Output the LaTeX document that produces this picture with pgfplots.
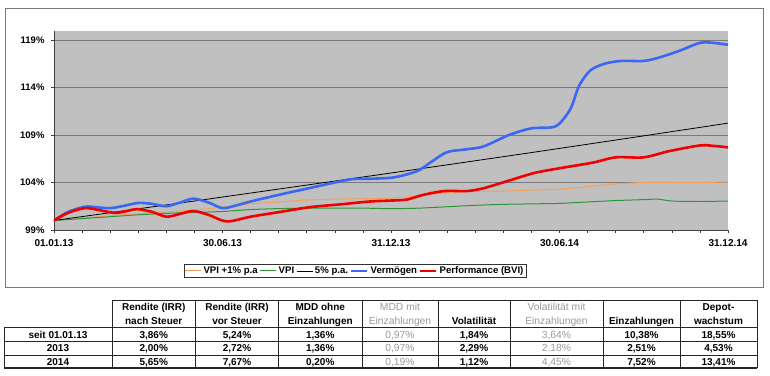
\documentclass[border=0pt]{standalone}
\usepackage{pgfplots}
\pgfplotsset{compat=1.18}
\usepackage{fontspec}
\setmainfont{Liberation Sans}
\definecolor{plotbg}{HTML}{C0C0C0}
\definecolor{vpione}{HTML}{F0A060}
\definecolor{vpi}{HTML}{2E9438}
\definecolor{verm}{HTML}{3B68F2}
\definecolor{perf}{HTML}{F00000}
\definecolor{gridc}{HTML}{7A7A7A}
\definecolor{txtgray}{HTML}{9A9A9A}
\newcommand\tf{\fontsize{10bp}{12bp}\selectfont}
\newcommand\cell[3]{\node[anchor=base,inner sep=0pt,font=\tf\bfseries] at (#1bp,#2bp-3.6bp) {#3};}
\newcommand\gcell[3]{\node[anchor=base,inner sep=0pt,font=\fontsize{10.3bp}{12bp}\selectfont,text=txtgray] at (#1bp,#2bp-3.6bp) {#3};}
\begin{document}
\begin{tikzpicture}
\useasboundingbox[fill=white] (0,0) rectangle (770bp,376bp);
\draw[gridc, line width=0.8bp] (5bp,368bp) rectangle (763bp,89bp);
\begin{axis}[
  at={(54bp,146bp)}, anchor=south west, scale only axis,
  width=674bp, height=199bp,
  xmin=0, xmax=24, ymin=99, ymax=119.95,
  axis background/.style={fill=plotbg},
  axis x line*=bottom, axis y line*=left,
  axis line style={-, line width=0.8bp, black!75},
  xtick={0,6,12,18,24},
  xticklabels={01.01.13,30.06.13,31.12.13,30.06.14,31.12.14},
  minor xtick={1,2,3,4,5,7,8,9,10,11,13,14,15,16,17,19,20,21,22,23},
  ytick={99,104,109,114,119},
  yticklabels={99\%,104\%,109\%,114\%,119\%},
  tick align=outside, major tick length=3bp, minor tick length=3bp,
  tick style={black!75, line width=0.6bp},
  ymajorgrids, grid style={gridc, line width=0.6bp},
  ticklabel style={font=\bfseries\fontsize{9.5bp}{11bp}\selectfont},
  xticklabel style={font=\bfseries\fontsize{10bp}{11bp}\selectfont, yshift=-3bp},
  yticklabel style={xshift=-3bp},
  legend columns=5,
  legend style={at={(axis description cs:0.4466,-0.171)}, anchor=north,
    draw=black!80, fill=white, font=\bfseries\fontsize{9.6bp}{11bp}\selectfont, inner sep=0.5bp,
    /tikz/every even column/.append style={column sep=0bp}},
  legend image code/.code={\draw[#1,sharp plot] (0bp,0bp) -- (16bp,0bp);},
]
\addplot[vpione, line width=1bp, smooth] coordinates {
(0,100) (1,100.25) (2,100.5) (3,100.7) (4,100.9) (5,101.1) (6,101.4) (7,101.75)
(8,101.95) (9,102.15) (10,102.25) (11,102.3) (12,102.35) (13,102.6) (14,102.95)
(15,103.05) (16,103.1) (17,103.2) (18,103.3) (19,103.55) (20,103.85) (21,104.0)
(22,104.0) (23,104.0) (24,104.05)};
\addlegendentry{VPI +1\% p.a}
\addplot[vpi, line width=1bp, smooth] coordinates {
(0,100) (1,100.2) (2,100.4) (3,100.6) (4,100.75) (5,100.85) (6,100.95) (7,101.15)
(8,101.25) (9,101.3) (10,101.3) (11,101.3) (12,101.25) (13,101.3) (14,101.45)
(15,101.6) (16,101.7) (17,101.75) (18,101.8) (19,101.95) (20,102.1) (21,102.2)
(21.5,102.25) (22,102.05) (23,102.0) (24,102.05)};
\addlegendentry{VPI}
\addplot[black, line width=0.8bp] coordinates {
(0,100) (1,100.41) (2,100.82) (3,101.23) (4,101.64) (5,102.05) (6,102.47) (7,102.89)
(8,103.31) (9,103.73) (10,104.15) (11,104.58) (12,105.00) (13,105.43) (14,105.86)
(15,106.29) (16,106.72) (17,107.15) (18,107.59) (19,108.03) (20,108.47) (21,108.91)
(22,109.36) (23,109.80) (24,110.25)};
\addlegendentry{5\% p.a.}
\addplot[verm, line width=2.6bp, smooth] coordinates {
(0,100) (0.5,100.9) (1.1,101.45) (1.5,101.4) (2.0,101.3) (2.5,101.55) (3.0,101.85)
(3.5,101.75) (4.0,101.5) (4.5,101.9) (4.96,102.3) (5.5,101.9) (6.0,101.3) (6.5,101.6)
(7.0,102.0) (8.0,102.7) (9.0,103.35) (10.0,104.0) (10.6,104.35) (11.3,104.4)
(12.0,104.5) (12.5,104.8) (13.0,105.3) (13.5,106.3) (14.0,107.2) (14.7,107.5)
(15.3,107.8) (16.2,109.0) (17.0,109.7) (17.7,109.8) (18.0,110.2) (18.4,111.8)
(18.7,114.2) (19.1,115.8) (19.6,116.5) (20.2,116.8) (21.0,116.8) (21.6,117.2)
(22.3,117.9) (23.0,118.7) (23.5,118.7) (24,118.5)};
\addlegendentry{Vermögen}
\addplot[perf, line width=2.6bp, smooth] coordinates {
(0,100) (0.5,100.8) (1.1,101.3) (1.6,101.1) (2.17,100.8) (2.6,101.0) (2.95,101.2)
(3.5,100.9) (4.0,100.4) (4.5,100.7) (4.96,101.0) (5.5,100.6) (6.15,99.9) (7.0,100.4)
(8.05,100.9) (9.1,101.4) (10.2,101.7) (11.25,102.0) (12.0,102.1) (12.56,102.2)
(13.15,102.7) (13.9,103.1) (14.7,103.1) (15.3,103.4) (16.2,104.2) (17.1,105.0)
(18.0,105.5) (19.2,106.1) (20.0,106.65) (21.0,106.65) (21.9,107.3) (23.0,107.9)
(23.5,107.85) (24,107.7)};
\addlegendentry{Performance (BVI)}
\end{axis}
% table
\draw[black!85, line width=0.8bp] (112bp,76bp) -- (757bp,76bp);
\draw[black!85, line width=1.1bp] (4bp,48.5bp) -- (757bp,48.5bp);
\draw[black!85, line width=0.8bp] (4bp,34.5bp) -- (757bp,34.5bp);
\draw[black!85, line width=0.8bp] (4bp,21bp) -- (757bp,21bp);
\draw[black!85, line width=1.1bp] (4bp,8bp) -- (757bp,8bp);
\draw[black!85, line width=0.8bp] (4bp,8bp) -- (4bp,48.5bp);
\foreach \xx in {112,195.5,278.5,362,438,510,603,680,757}{
  \draw[black!85, line width=0.8bp] (\xx bp,8bp) -- (\xx bp,76bp);}
% headers
\cell{153.75}{69}{Rendite (IRR)}\cell{153.75}{55}{nach Steuer}
\cell{237}{69}{Rendite (IRR)}\cell{237}{55}{vor Steuer}
\cell{320.25}{69}{MDD ohne}\cell{320.25}{55}{Einzahlungen}
\gcell{400}{69}{MDD mit}\gcell{400}{55}{Einzahlungen}
\cell{474}{55}{Volatilität}
\gcell{556.5}{69}{Volatilität mit}\gcell{556.5}{55}{Einzahlungen}
\cell{641.5}{55}{Einzahlungen}
\cell{718.5}{69}{Depot-}\cell{718.5}{55}{wachstum}
% rows
\cell{58}{41.5}{seit 01.01.13}\cell{153.75}{41.5}{3,86\%}\cell{237}{41.5}{5,24\%}
\cell{320.25}{41.5}{1,36\%}\gcell{400}{41.5}{0,97\%}\cell{474}{41.5}{1,84\%}
\gcell{556.5}{41.5}{3,64\%}\cell{641.5}{41.5}{10,38\%}\cell{718.5}{41.5}{18,55\%}
\cell{58}{28}{2013}\cell{153.75}{28}{2,00\%}\cell{237}{28}{2,72\%}
\cell{320.25}{28}{1,36\%}\gcell{400}{28}{0,97\%}\cell{474}{28}{2,29\%}
\gcell{556.5}{28}{2,18\%}\cell{641.5}{28}{2,51\%}\cell{718.5}{28}{4,53\%}
\cell{58}{14.5}{2014}\cell{153.75}{14.5}{5,65\%}\cell{237}{14.5}{7,67\%}
\cell{320.25}{14.5}{0,20\%}\gcell{400}{14.5}{0,19\%}\cell{474}{14.5}{1,12\%}
\gcell{556.5}{14.5}{4,45\%}\cell{641.5}{14.5}{7,52\%}\cell{718.5}{14.5}{13,41\%}
\end{tikzpicture}
\end{document}
